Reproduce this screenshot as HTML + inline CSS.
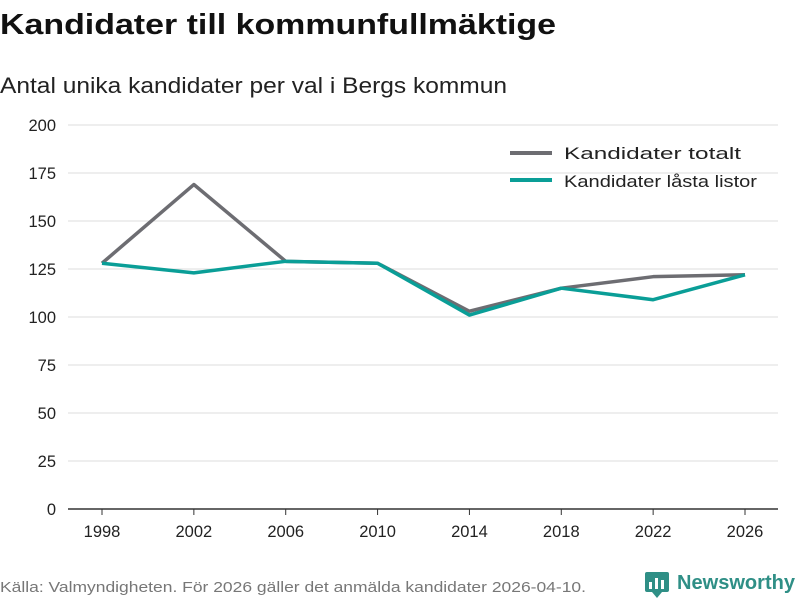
<!DOCTYPE html>
<html><head><meta charset="utf-8">
<style>
body{margin:0;background:#fff;width:800px;height:600px;overflow:hidden;font-family:"Liberation Sans",sans-serif;}
</style></head>
<body>
<svg width="800" height="600" xmlns="http://www.w3.org/2000/svg" font-family="Liberation Sans, sans-serif">
<text x="0" y="34" font-size="29" font-weight="bold" fill="#111" textLength="556" lengthAdjust="spacingAndGlyphs">Kandidater till kommunfullmäktige</text>
<text x="0" y="93" font-size="22" fill="#222" textLength="507" lengthAdjust="spacingAndGlyphs">Antal unika kandidater per val i Bergs kommun</text>
<g id="grid"></g>
<g id="lines"></g>
<g>
<line x1="510" y1="153" x2="552" y2="153" stroke="#6d6d72" stroke-width="4"/>
<text x="564" y="159" font-size="17" fill="#222" textLength="177" lengthAdjust="spacingAndGlyphs">Kandidater totalt</text>
<line x1="510" y1="180" x2="552" y2="180" stroke="#0a9e97" stroke-width="4"/>
<text x="564" y="187" font-size="17" fill="#222" textLength="193" lengthAdjust="spacingAndGlyphs">Kandidater låsta listor</text>
</g>
<text x="0" y="592" font-size="15" fill="#777" textLength="586" lengthAdjust="spacingAndGlyphs">Källa: Valmyndigheten. För 2026 gäller det anmälda kandidater 2026-04-10.</text>
<g>
<rect x="645" y="572" width="24" height="20" rx="2" fill="#2f8f86"/>
<polygon points="652,592 657,598 662,592" fill="#2f8f86"/>
<rect x="649" y="582" width="3" height="7" fill="#fff"/><rect x="655" y="578" width="3" height="11" fill="#fff"/><rect x="661" y="580" width="3" height="9" fill="#fff"/>
<text x="677" y="589" font-size="20" font-weight="bold" fill="#2f8f86" textLength="118" lengthAdjust="spacingAndGlyphs">Newsworthy</text>
</g>
</svg>
<script>
const years=[1998,2002,2006,2010,2014,2018,2022,2026];
const totalValues=[128,169,129,128,103,115,121,122];
const lockedValues=[128,123,129,128,101,115,109,122];
const yTicks=[0,25,50,75,100,125,150,175,200];
const NS="http://www.w3.org/2000/svg";
const x=i=>102+i*(745-102)/(years.length-1);
const y=v=>509-v*(509-125)/200;
const grid=document.getElementById('grid');
function mk(t,a,p){const e=document.createElementNS(NS,t);for(const k in a)e.setAttribute(k,a[k]);p.appendChild(e);return e;}
yTicks.forEach(v=>{
 const l=mk('line',{x1:68,x2:778,y1:y(v),y2:y(v),stroke:v===0?'#333':'#ddd','stroke-width':v===0?1.5:1},grid);
 
 
 const t=mk('text',{x:56,y:y(v)+6,'text-anchor':'end','font-size':16.5,fill:'#222'},grid);
 t.textContent=v;
 
 
});
years.forEach((yr,i)=>{
 const tk=mk('line',{x1:x(i),x2:x(i),y1:509,y2:515,stroke:'#333'},grid);
 
 
 const t=mk('text',{x:x(i),y:537,'text-anchor':'middle','font-size':16.5,fill:'#222'},grid);
 t.textContent=yr;
 
 
});
const lines=document.getElementById('lines');
function series(vals,color,name){
 const p=mk('polyline',{points:vals.map((v,i)=>x(i)+','+y(v)).join(' '),fill:'none',stroke:color,'stroke-width':3.5,'stroke-linejoin':'round'},lines);
 
 
}
series(totalValues,'#6d6d72','line-total');
series(lockedValues,'#0a9e97','line-locked-lists');
</script>
</body></html>
